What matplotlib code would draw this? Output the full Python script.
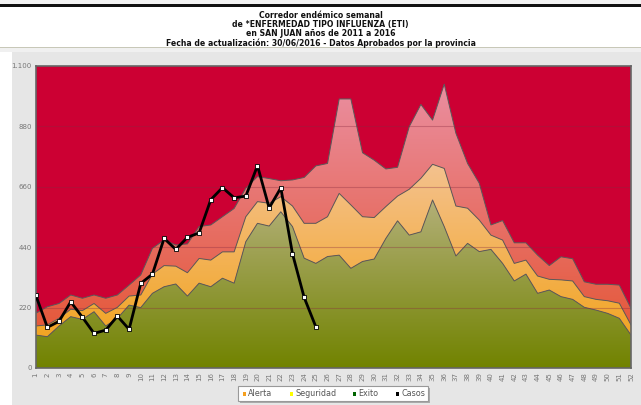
import numpy as np
import matplotlib
matplotlib.use('Agg')
import matplotlib.pyplot as plt
from matplotlib import font_manager
from matplotlib.patches import Rectangle, PathPatch
from matplotlib.path import Path
from matplotlib.colors import to_rgb

# data
weeks = np.arange(1, 53)
exito = [120, 114, 153, 187, 177, 205, 153, 181, 229, 220, 272, 296, 306, 262, 309, 296,
         327, 309, 460, 527, 517, 569, 515, 400, 381, 406, 411, 363, 388, 397, 472, 536,
         484, 496, 612, 515, 408, 454, 424, 432, 381, 317, 342, 272, 284, 260, 250, 221,
         211, 199, 181, 120]
seguridad = [153, 157, 181, 214, 209, 235, 199, 221, 262, 266, 342, 373, 371, 347, 399, 393,
             423, 423, 551, 606, 600, 624, 590, 527, 527, 551, 636, 594, 551, 548, 588, 626,
             651, 691, 742, 727, 590, 582, 539, 484, 466, 381, 393, 335, 323, 321, 317, 260,
             250, 245, 236, 157]
alerta = [199, 223, 235, 266, 254, 266, 254, 266, 302, 339, 436, 466, 448, 452, 515, 521,
          551, 581, 655, 697, 690, 682, 685, 694, 736, 745, 980, 980, 784, 757, 725, 731,
          879, 960, 903, 1034, 855, 745, 673, 521, 537, 456, 456, 411, 373, 405, 398, 314,
          305, 305, 302, 217]
casos_weeks = np.arange(1, 26)
casos = [266, 148, 170, 241, 185, 126, 138, 189, 141, 308, 342, 472, 432, 476, 492, 613,
         657, 620, 626, 737, 583, 656, 416, 257, 150]
yticks = [0, 220, 440, 660, 880, 1100]
ytick_labels = ['0', '220', '440', '660', '880', '1.100']
title_lines = ['Corredor endémico semanal',
               'de *ENFERMEDAD TIPO INFLUENZA (ETI)',
               'en SAN JUAN años de 2011 a 2016',
               'Fecha de actualización: 30/06/2016 - Datos Aprobados por la provincia']
legend_names = ['Alerta', 'Seguridad', 'Exito', 'Casos']
legend_colors = ['#F5A020', '#FFFF00', '#006400', '#000000']

W, H = 641, 405
names = {f.name for f in font_manager.fontManager.ttflist}
narrow = 'Liberation Sans Narrow' if 'Liberation Sans Narrow' in names else None

fig = plt.figure(figsize=(W / 100, H / 100), dpi=100)
fig.patch.set_facecolor('#E6E6E6')


def px_rect(x0, y0, x1, y1, **kw):
    fig.patches.append(Rectangle((x0 / W, 1 - y1 / H), (x1 - x0) / W, (y1 - y0) / H,
                                 transform=fig.transFigure, figure=fig, **kw))


# page decorations
px_rect(0, 0, W, 4, facecolor='#F2F2F2', edgecolor='none')
px_rect(0, 4, W, 6.5, facecolor='#111111', edgecolor='none')
px_rect(0, 6.5, W, 47, facecolor='white', edgecolor='none')
px_rect(0, 46.5, W, 47.5, facecolor='#C8C8B8', edgecolor='none')
px_rect(0, 47.5, W, 52, facecolor='#F0F0F0', edgecolor='none')
px_rect(0, 52, 12, H, facecolor='white', edgecolor='none')

if narrow:
    tfont = dict(family=narrow, fontsize=7.6, fontweight='bold')
else:
    tfont = dict(family='DejaVu Sans', fontsize=5.6, fontweight='bold')
for i, line in enumerate(title_lines):
    fig.text(0.5, 1 - (15 + i * 9.4) / H, line, ha='center', va='center', color='#111111', **tfont)

ax = fig.add_axes([35.7 / W, 1 - 368 / H, (631 - 35.7) / W, (368 - 66) / H])
ax.set_facecolor('#CC0033')
ax.set_xlim(1, 52)
ax.set_ylim(0, 1100)


def gradient_band(lower, upper, c0, v0, c1, v1, z):
    lower = np.asarray(lower, float)
    upper = np.asarray(upper, float)
    verts = np.vstack([np.column_stack([weeks, upper]),
                       np.column_stack([weeks[::-1], lower[::-1]])])
    patch = PathPatch(Path(verts, closed=False), facecolor='none', edgecolor='none')
    ax.add_patch(patch)
    vals = np.linspace(0, 1100, 400)
    t = np.clip((vals - v0) / (v1 - v0), 0, 1)[:, None]
    a, b = np.array(to_rgb(c0)), np.array(to_rgb(c1))
    img = (a + (b - a) * t)[:, None, :]
    im = ax.imshow(img, extent=[1, 52, 0, 1100], origin='lower', aspect='auto',
                   interpolation='bilinear', zorder=z)
    im.set_clip_path(patch)


zeros = np.zeros(len(weeks))
gradient_band(seguridad, alerta, '#E4502A', 0, '#EA8C9C', 1000, 1)
gradient_band(exito, seguridad, '#F2A010', 0, '#F4C290', 750, 1.1)
gradient_band(zeros, exito, '#718300', 0, '#B4B07A', 620, 1.2)
for arr in (alerta, seguridad, exito):
    ax.plot(weeks, arr, color='#5A5A5A', lw=0.7, zorder=2)

for yv in yticks[1:-1]:
    ax.axhline(yv, color='#8A2A40', lw=0.8, alpha=0.35, zorder=2.5)

ax.plot(casos_weeks, casos, color='black', lw=2.0, zorder=5,
        marker='s', markersize=3.4, markerfacecolor='white', markeredgecolor='black',
        markeredgewidth=0.6)

ax.set_xticks(weeks)
ax.set_xticklabels([str(w) for w in weeks], rotation=90, fontsize=5, color='#777777')
ax.set_yticks(yticks)
ax.set_yticklabels(ytick_labels, fontsize=5, color='#777777')
ax.tick_params(length=0, pad=3)
for s in ax.spines.values():
    s.set_color('#666666')
    s.set_linewidth(1.2)

# legend box
px_rect(240, 388, 430, 403, facecolor='#AAAAAA', edgecolor='none')
px_rect(238, 386, 428, 401, facecolor='white', edgecolor='#999999', linewidth=0.8)
lx = [243, 290, 353, 396]
for x0, name, col in zip(lx, legend_names, legend_colors):
    px_rect(x0, 392, x0 + 3, 396, facecolor=col, edgecolor='none')
    fig.text((x0 + 5) / W, 1 - 394 / H, name, ha='left', va='center', fontsize=5.8,
             color='#555555')

fig.savefig('out.png', dpi=100, facecolor=fig.get_facecolor())
